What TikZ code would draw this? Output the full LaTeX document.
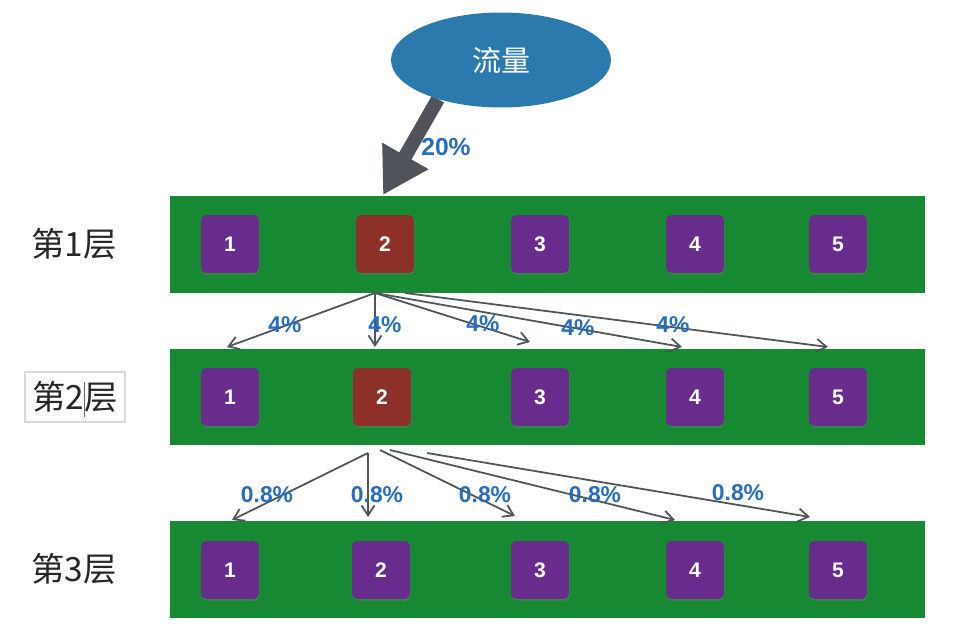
\documentclass[tikz,border=0pt]{standalone}
\usepackage{fontspec}
\setmainfont{Liberation Sans}
\newfontfamily\cjk{Noto Sans CJK SC}
\usetikzlibrary{shapes.geometric,arrows.meta,shadows}
\definecolor{bandgreen}{RGB}{22,137,50}
\definecolor{boxpurple}{RGB}{104,44,140}
\definecolor{boxred}{RGB}{140,48,40}
\definecolor{flowblue}{RGB}{44,121,174}
\definecolor{pctblue}{RGB}{40,108,190}
\definecolor{arrowgray}{RGB}{80,84,90}

\begin{document}
\begin{tikzpicture}[
        x=0.02cm, y=-0.02cm,
        band/.style={rectangle, fill=bandgreen, minimum width=15.1cm, minimum height=1.94cm, inner sep=0},
        purplebox/.style={rectangle, rounded corners=3pt, fill=boxpurple, text=white, font=\bfseries\fontsize{12}{14}\selectfont, minimum size=1.16cm, inner sep=0,
            drop shadow={opacity=0.3, shadow xshift=0.4pt, shadow yshift=-1pt}},
        redbox/.style={purplebox, fill=boxred},
        layer/.style={font=\cjk\fontsize{19}{22}\selectfont, text=black!85, inner sep=0},
        pct/.style={font=\bfseries\fontsize{13}{15}\selectfont, text=pctblue, inner sep=1pt},
        split/.style={-{Straight Barb[length=2mm, width=2.6mm]}, line width=1pt, arrowgray}
    ]
    \useasboundingbox (0,0) rectangle (968,628);

    % Layer 1
    \node[layer] (t1) at (74,244) {第1层};
    \node[band] (L1) at (547.5,244.5) {};
    \foreach \i/\x/\s in {1/230/purplebox,2/385/redbox,3/540/purplebox,4/695/purplebox,5/838/purplebox}
        \node[\s] (a\i) at (\x,244) {\i};

    % Layer 2
    \node[layer, draw=black!15, line width=0.6pt, minimum width=2cm, minimum height=1cm] (t2) at (75,397) {第2层};
    \draw[black!60, line width=0.5pt] (84,382) -- (84,417);
    \node[band] (L2) at (547.5,397) {};
    \foreach \i/\x/\s in {1/230/purplebox,2/382/redbox,3/540/purplebox,4/695/purplebox,5/838/purplebox}
        \node[\s] (b\i) at (\x,397) {\i};

    % Layer 3
    \node[layer] (t3) at (74,569) {第3层};
    \node[band] (L3) at (547.5,569.5) {};
    \foreach \i/\x in {1/230,2/381,3/540,4/695,5/838}
        \node[purplebox] (c\i) at (\x,570) {\i};

    % Traffic in
    \coordinate (hit) at (383,195);
    \draw[line width=0.28cm, arrowgray, -{Triangle[length=0.9cm, width=1.0cm]}] (438,99) -- (hit);
    \node[ellipse, fill=flowblue, minimum width=4.4cm, minimum height=1.9cm, text=white, font=\cjk\fontsize{16.5}{18}\selectfont] (flow) at (501,60) {流量};
    \node[pct, font=\bfseries\fontsize{14}{16}\selectfont] (p0) at (446,147) {20\%};

    % Layer 1 -> Layer 2
    \coordinate (s1) at (375,293);
    \coordinate (s1e) at (405,293);
    \coordinate (e11) at (227,347);
    \coordinate (e12) at (375,347);
    \coordinate (e13) at (530,342);
    \coordinate (e14) at (682,347);
    \coordinate (e15) at (828,347);
    \draw[split] (s1) -- (e11);
    \draw[split] (s1) -- (e12);
    \draw[split] (s1) -- (e13);
    \draw[split] (s1) -- (e14);
    \draw[split] (s1e) -- (e15);
    \node[pct] (p11) at (285,325) {4\%};
    \node[pct] (p12) at (385,325) {4\%};
    \node[pct] (p13) at (483,324) {4\%};
    \node[pct] (p14) at (578,328) {4\%};
    \node[pct] (p15) at (673,325) {4\%};

    % Layer 2 -> Layer 3
    \coordinate (s2) at (368,453);
    \coordinate (s2c) at (380,450);
    \coordinate (s2d) at (390,450);
    \coordinate (s2e) at (427,453);
    \coordinate (e21) at (232,520);
    \coordinate (e22) at (368,517);
    \coordinate (e23) at (515,516);
    \coordinate (e24) at (675,520);
    \coordinate (e25) at (810,517);
    \draw[split] (s2) -- (e21);
    \draw[split] (s2) -- (e22);
    \draw[split] (s2c) -- (e23);
    \draw[split] (s2d) -- (e24);
    \draw[split] (s2e) -- (e25);
    \node[pct] (p21) at (267,495) {0.8\%};
    \node[pct] (p22) at (377,495) {0.8\%};
    \node[pct] (p23) at (485,495) {0.8\%};
    \node[pct] (p24) at (595,495) {0.8\%};
    \node[pct] (p25) at (738,493) {0.8\%};

\end{tikzpicture}
\end{document}
